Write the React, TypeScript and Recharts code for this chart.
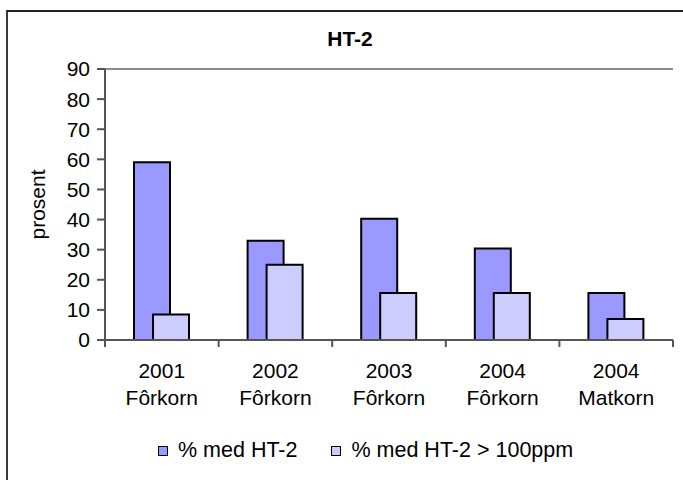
import { Bar, BarChart, ReferenceLine, XAxis, YAxis } from "recharts";

const years = ["2001", "2002", "2003", "2004", "2004"];
const kinds = ["Fôrkorn", "Fôrkorn", "Fôrkorn", "Fôrkorn", "Matkorn"];
const withHT2 = [59, 33, 40.3, 30.4, 15.6];
const over100 = [8.5, 25, 15.6, 15.6, 7];
const yTicks = [0, 10, 20, 30, 40, 50, 60, 70, 80, 90];

const series = [
    { key: "ht2", label: "% med HT-2", color: "#9999FF" },
    { key: "over", label: "% med HT-2 > 100ppm", color: "#CCCCFF" },
];

const data = years.map((y, i) => ({
    name: `${y} ${kinds[i]}`,
    year: y,
    kind: kinds[i],
    ht2: withHT2[i],
    over: over100[i],
}));

const FONT = '"Liberation Sans", Arial, sans-serif';

// category label in two lines, plus the tick marks between categories
function CategoryTick({ x, y, payload, width, visibleTicksCount }: any) {
    const row = data[payload.index];
    const half = payload.offset || width / visibleTicksCount / 2;
    const last = payload.index === data.length - 1;
    return (
        <g>
            <line x1={x - half} x2={x - half} y1={y} y2={y + 7} stroke="#555" strokeWidth={2} />
            {last && <line x1={x + half} x2={x + half} y1={y} y2={y + 7} stroke="#555" strokeWidth={2} />}
            <text x={x} y={y} textAnchor="middle" fontFamily={FONT} fontSize={21} fill="#000">
                <tspan x={x} dy={38}>{row.year}</tspan>
                <tspan x={x} dy={27}>{row.kind}</tspan>
            </text>
        </g>
    );
}

function YTitle({ viewBox }: any) {
    const cy = viewBox.y + viewBox.height / 2;
    return (
        <text
            x={37}
            y={cy}
            transform={`rotate(-90, 37, ${cy})`}
            textAnchor="middle"
            dominantBaseline="central"
            fontFamily={FONT}
            fontSize={21}
            fill="#000"
        >
            prosent
        </text>
    );
}

export default function App() {
    return (
        <div style={{ position: "absolute", left: 0, top: 0, width: 683, height: 480, overflow: "hidden", background: "#fff", fontFamily: FONT }}>
            <div style={{ position: "absolute", left: 6, top: 10, width: 760, height: 560, borderLeft: "2px solid #3a3a3a", borderTop: "2px solid #222" }} />
            <div style={{ position: "absolute", left: 250, width: 200, top: 27, textAlign: "center", fontWeight: "bold", fontSize: 21 }}>HT-2</div>
            <BarChart
                width={683}
                height={480}
                data={data}
                margin={{ top: 69, right: 10, bottom: 80, left: 45 }}
                barSize={36}
                barGap={-17}
                style={{ position: "absolute", left: 0, top: 0 }}
            >
                <XAxis
                    xAxisId="cat"
                    dataKey="name"
                    height={60}
                    interval={0}
                    tickLine={false}
                    axisLine={{ stroke: "#555", strokeWidth: 2 }}
                    tickSize={0}
                    tickMargin={0}
                    tick={<CategoryTick />}
                />
                <YAxis
                    yAxisId="v"
                    domain={[0, 90]}
                    ticks={yTicks}
                    width={60}
                    tickSize={8}
                    tickMargin={7}
                    tick={{ fontSize: 21, fill: "#000", fontFamily: FONT }}
                    tickLine={{ stroke: "#555", strokeWidth: 2 }}
                    axisLine={{ stroke: "#555", strokeWidth: 2 }}
                    label={<YTitle />}
                />
                <YAxis
                    yAxisId="frame"
                    orientation="right"
                    domain={[0, 90]}
                    width={0}
                    tick={false}
                    tickLine={false}
                    axisLine={{ stroke: "#8c8c8c", strokeWidth: 2 }}
                />
                <ReferenceLine y={90} yAxisId="v" xAxisId="cat" stroke="#8c8c8c" strokeWidth={2} />
                {series.map((s) => (
                    <Bar
                        key={s.key}
                        dataKey={s.key}
                        name={s.label}
                        xAxisId="cat"
                        yAxisId="v"
                        fill={s.color}
                        stroke="#000"
                        strokeWidth={2}
                        isAnimationActive={false}
                    />
                ))}
            </BarChart>
            <div style={{ position: "absolute", top: 438, left: 158, display: "flex", alignItems: "center", fontSize: 21.5, whiteSpace: "nowrap" }}>
                {series.map((s, i) => (
                    <div key={s.key} style={{ display: "flex", alignItems: "center", marginRight: i === 0 ? 34 : 0 }}>
                        <span style={{ display: "inline-block", width: 8, height: 8, background: s.color, border: "1.5px solid #000", marginRight: 10 }} />
                        <span>{s.label}</span>
                    </div>
                ))}
            </div>
        </div>
    );
}
